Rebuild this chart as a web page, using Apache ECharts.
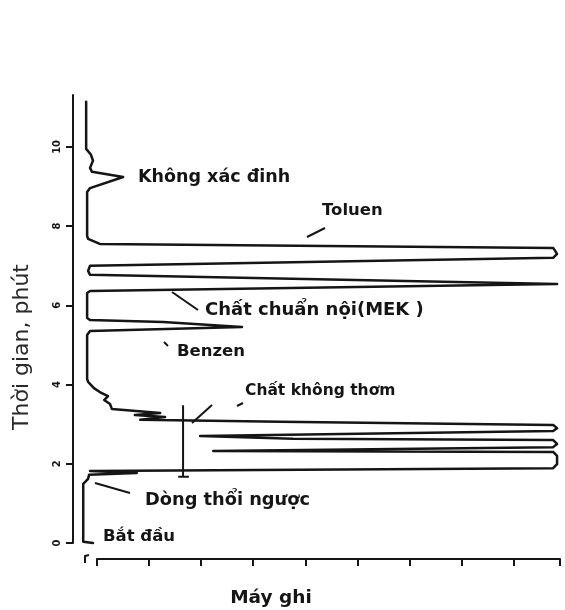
<!DOCTYPE html>
<html>
<head>
<meta charset="utf-8">
<script src="https://cdn.jsdelivr.net/npm/echarts@6/dist/echarts.min.js"></script>
<style>
  html, body { margin: 0; padding: 0; background: #fff; }
  #chart { width: 565px; height: 610px; }
</style>
</head>
<body>
<div id="chart"></div>
<script>
// pen trace of the recorder, in order of time (minutes) ; signal = % of full scale
const time = [0.00, 0.03, 1.49, 1.62, 1.72, 1.77, 1.82, 1.84, 1.89, 1.99, 2.20, 2.30, 2.32,
  2.42, 2.50, 2.60, 2.63, 2.70, 2.83, 2.90, 2.98, 3.06, 3.11, 3.18, 3.23, 3.28, 3.38, 3.51,
  3.61, 3.71, 3.81, 3.91, 4.07, 4.14, 5.25, 5.35, 5.45, 5.58, 5.63, 5.68, 6.31, 6.36, 6.54,
  6.77, 6.87, 7.00, 7.20, 7.30, 7.45, 7.55, 7.68, 7.75, 8.86, 8.96, 9.24, 9.37, 9.47, 9.65,
  9.80, 9.95, 11.14];
const signal = [4.1, 2.1, 2.1, 3.1, 3.3, 13.1, 3.5, 3.1, 98.6, 99.4, 99.4, 98.6, 28.8,
  98.6, 99.4, 98.6, 45.2, 26.1, 98.6, 99.4, 98.6, 42.5, 13.8, 18.9, 12.7, 17.9, 8.0, 7.6,
  6.4, 7.2, 5.5, 4.3, 3.1, 2.9, 2.9, 3.5, 34.7, 18.5, 3.5, 2.9, 2.9, 3.5, 99.4,
  3.5, 3.1, 3.5, 98.6, 99.4, 98.6, 5.5, 3.1, 2.9, 2.9, 3.5, 10.3, 3.9, 3.5, 4.1,
  3.7, 2.7, 2.7];

// vertical time mark near the non-aromatics
const markTime = [1.67, 1.67, 1.67, 3.48];
const markSignal = [21.6, 23.8, 22.6, 22.6];

const timeTicks = ['0', '2', '4', '6', '8', '10'];

const ink = '#151515';
const font = "'DejaVu Sans', 'Liberation Sans', sans-serif";

let chart = echarts.init(document.getElementById('chart'));

function zip(xs, ys) {
  return xs.map(function (x, i) { return [x, ys[i]]; });
}

function label(text, x, y, size) {
  return {
    type: 'text', x: x, y: y,
    style: { text: text, fill: ink, fontSize: size || 16.5, fontWeight: 'bold', fontFamily: font, verticalAlign: 'middle' }
  };
}

function stroke(x1, y1, x2, y2) {
  return {
    type: 'line',
    shape: { x1: x1, y1: y1, x2: x2, y2: y2 },
    style: { stroke: ink, lineWidth: 2 }
  };
}

let option = {
  backgroundColor: '#fff',
  animation: false,
  grid: [
    { left: 73, right: 5, top: 95, bottom: 67 },
    { left: 97, right: 5, top: 558, height: 1 }
  ],
  xAxis: [
    { gridIndex: 0, type: 'value', min: 0, max: 100, show: false },
    {
      gridIndex: 1, type: 'value', min: 0, max: 8.89, interval: 1,
      axisLine: { show: true, lineStyle: { color: ink, width: 2 } },
      axisTick: { show: true, length: 7, lineStyle: { color: ink, width: 2 } },
      axisLabel: { show: false },
      splitLine: { show: false }
    }
  ],
  yAxis: [
    {
      gridIndex: 0, type: 'value', min: 0, max: 11.31, interval: 2,
      axisLine: { show: true, lineStyle: { color: ink, width: 2 } },
      axisTick: { show: true, length: 7, lineStyle: { color: ink, width: 2 } },
      axisLabel: {
        rotate: 90, margin: 11, color: ink, fontSize: 10, fontWeight: 'bold', fontFamily: font,
        showMaxLabel: false,
        formatter: function (v) { return timeTicks.indexOf(String(v)) >= 0 ? String(v) : ''; }
      },
      splitLine: { show: false }
    },
    { gridIndex: 1, type: 'value', show: false }
  ],
  series: [
    {
      name: 'trace',
      type: 'line',
      xAxisIndex: 0, yAxisIndex: 0,
      data: zip(signal, time),
      showSymbol: false,
      clip: false,
      lineStyle: { color: ink, width: 2.5, join: 'round', cap: 'round' }
    },
    {
      name: 'mark',
      type: 'line',
      xAxisIndex: 0, yAxisIndex: 0,
      data: zip(markSignal, markTime),
      showSymbol: false,
      lineStyle: { color: ink, width: 2 }
    }
  ],
  graphic: [
    {
      type: 'text', x: 22, y: 347, rotation: Math.PI / 2,
      style: { text: 'Thời gian, phút', fill: '#2a2a2a', fontSize: 22, fontFamily: font, align: 'center', verticalAlign: 'middle' }
    },
    {
      type: 'text', x: 271, y: 598,
      style: { text: 'Máy ghi', fill: ink, fontSize: 18.5, fontWeight: 'bold', fontFamily: font, align: 'center', verticalAlign: 'middle' }
    },
    label('Không xác đinh', 138, 177, 17.5),
    label('Toluen', 322, 211),
    label('Chất chuẩn nội(MEK )', 205, 310, 18),
    label('Benzen', 177, 352),
    label('Chất không thơm', 245, 391, 15.5),
    label('Dòng thổi ngược', 145, 500, 17.8),
    label('Bắt đầu', 103, 537),
    stroke(307, 237, 325, 228),
    stroke(172, 292, 198, 310),
    stroke(164, 342, 168, 346),
    stroke(192, 423, 212, 405),
    stroke(237, 406, 243, 403),
    stroke(95, 483, 130, 493),
    {
      type: 'polyline',
      shape: { points: [[85, 563], [85, 556], [89, 555]] },
      style: { stroke: ink, lineWidth: 2, fill: null }
    }
  ]
};

chart.setOption(option);
</script>
</body>
</html>
